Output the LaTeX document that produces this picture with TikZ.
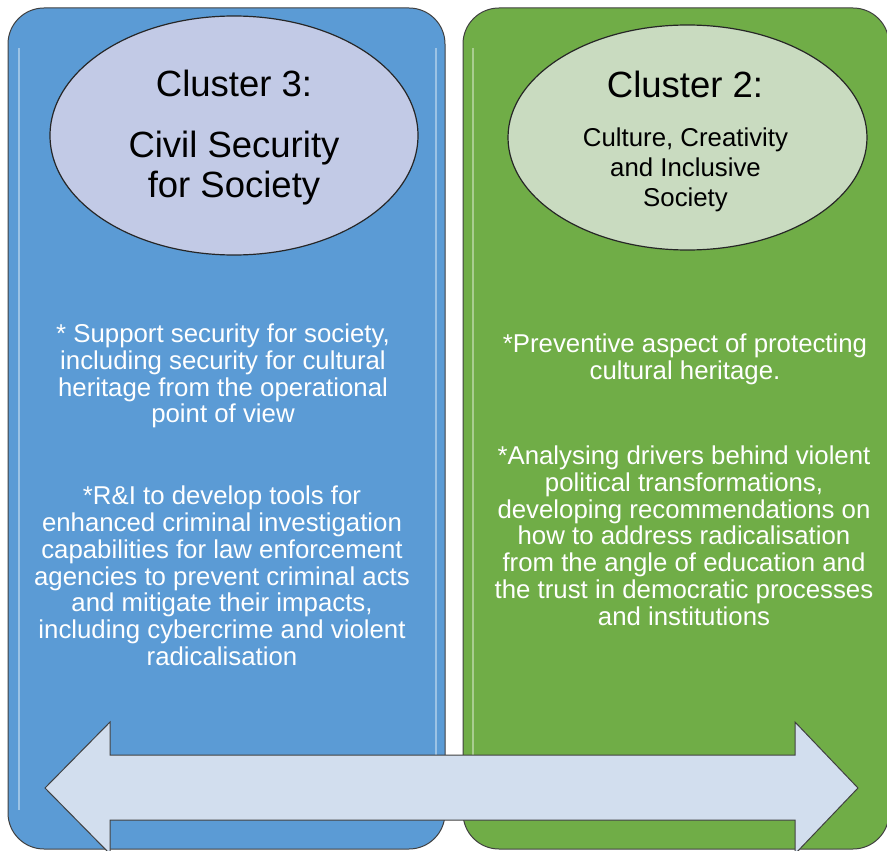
\documentclass[tikz,border=0pt]{standalone}
\usepackage{fontspec}
\setmainfont{Liberation Sans}
\usetikzlibrary{shapes.geometric}
\definecolor{panelblue}{HTML}{5B9BD5}
\definecolor{panelgreen}{HTML}{70AD47}
\definecolor{ovalblue}{HTML}{C2CAE6}
\definecolor{ovalgreen}{HTML}{C9DBC0}
\definecolor{arrowfill}{HTML}{D2DEEE}
\begin{document}
\begin{tikzpicture}[x=1pt, y=-1pt,
    panel/.style={draw=black!75, line width=1pt, rounded corners=36pt},
    shine/.style={draw=white, opacity=0.4, line width=2.5pt},
    oval/.style={ellipse, draw=black!85, line width=1.2pt, inner sep=0pt},
    head/.style={font=\fontsize{36.5}{40}\selectfont, align=center, inner sep=0pt},
    sub/.style={font=\fontsize{25.8}{30}\selectfont, align=center, inner sep=0pt},
    body/.style={font=\fontsize{25.8}{26.7}\selectfont, align=center, text=white, inner sep=0pt},
    link/.style={fill=arrowfill, draw=black!75, line width=1pt}
]
    \useasboundingbox (0,0) rectangle (887,851);
    \draw[panel, fill=panelblue] (8,8) rectangle (445,849);
    \draw[panel, fill=panelgreen] (463,8) rectangle (889,849);
    \draw[shine] (19,48) -- (19,810);
    \draw[shine] (436,48) -- (436,810);
    \draw[shine] (473,48) -- (473,810);

    \node[oval, fill=ovalblue, minimum width=368, minimum height=239] (ell3) at (234,135.5) {};
    \node[oval, fill=ovalgreen, minimum width=359, minimum height=225] (ell2) at (687.5,137.5) {};

    \node[head, anchor=base] (c3) at (234,97) {Cluster 3:};
    \node[head, anchor=north] (c3name) at (234,130.4) {Civil Security\\for Society};
    \node[head, anchor=base] (c2) at (685,98) {Cluster 2:};
    \node[sub, anchor=north] (c2name) at (685.5,128) {Culture, Creativity\\and Inclusive\\Society};

    \node[body, anchor=north] (c3a) at (223,324) {* Support security for society,\\including security for cultural\\heritage from the operational\\point of view};
    \node[body, anchor=north] (c3b) at (222,486) {*R\&I to develop tools for\\enhanced criminal investigation\\capabilities for law enforcement\\agencies to prevent criminal acts\\and mitigate their impacts,\\including cybercrime and violent\\radicalisation};
    \node[body, anchor=north] (c2a) at (685,334) {*Preventive aspect of protecting\\cultural heritage.};
    \node[body, anchor=north] (c2b) at (684,446) {*Analysing drivers behind violent\\political transformations,\\developing recommendations on\\how to address radicalisation\\from the angle of education and\\the trust in democratic processes\\and institutions};

    \draw[link] (45,788) -- (110,722) -- (110,755) -- (795,755) -- (795,722) -- (858,788)
        -- (795,854) -- (795,820) -- (110,820) -- (110,854) -- cycle;
\end{tikzpicture}
\end{document}
